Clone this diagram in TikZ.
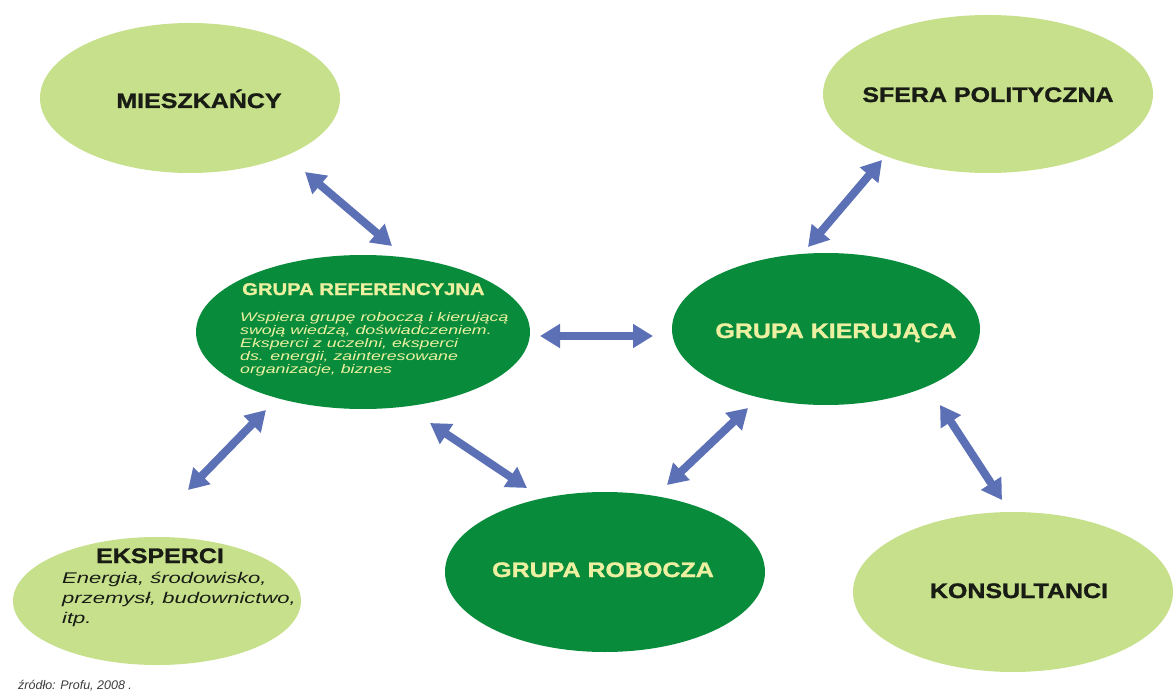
\documentclass[tikz,border=0pt]{standalone}
\usepackage{fontspec}
\setmainfont{Liberation Sans}
\newfontfamily\labelfont[FakeStretch=1.19, BoldFeatures={FakeBold=1.3}]{Liberation Sans}
\newfontfamily\notefont[FakeStretch=1.42]{Liberation Sans}
\usetikzlibrary{shapes.geometric,arrows.meta}

\definecolor{paleleaf}{RGB}{199,224,140}
\definecolor{deepleaf}{RGB}{8,140,60}
\definecolor{paletext}{RGB}{236,240,160}
\definecolor{inktext}{RGB}{24,28,20}
\definecolor{arrowblue}{RGB}{92,112,182}
\definecolor{sourcegray}{RGB}{60,60,60}

\tikzset{
  outer/.style={ellipse, fill=paleleaf, draw=none, inner sep=0pt},
  inner/.style={ellipse, fill=deepleaf, draw=none, inner sep=0pt},
  darklabel/.style={inner sep=0pt, text=inktext,
    font=\labelfont\bfseries\fontsize{21}{25}\selectfont},
  lightlabel/.style={inner sep=0pt, text=paletext,
    font=\labelfont\bfseries\fontsize{21}{25}\selectfont},
  link/.style={draw=arrowblue, line width=8pt,
    {Triangle[width=23pt,length=20pt]}-{Triangle[width=23pt,length=20pt]}}
}

\begin{document}
\begin{tikzpicture}[x=1pt,y=-1pt]
\useasboundingbox[fill=white] (0,0) rectangle (1173,695);

% ellipses
\node[outer, minimum width=300pt, minimum height=150pt] (mies) at (190,98) {};
\node[outer, minimum width=330pt, minimum height=158pt] (sfera) at (988,94) {};
\node[inner, minimum width=334pt, minimum height=154pt] (ref) at (363,332) {};
\node[inner, minimum width=308pt, minimum height=152pt] (kier) at (826,329) {};
\node[inner, minimum width=320pt, minimum height=160pt] (rob) at (605,572) {};
\node[outer, minimum width=288pt, minimum height=128pt] (eks) at (157,601) {};
\node[outer, minimum width=320pt, minimum height=160pt] (kons) at (1013,592) {};

% labels
\node[darklabel, anchor=base] (mies-t) at (199,108) {MIESZKAŃCY};
\node[darklabel, anchor=base] (sfera-t) at (988,102) {SFERA POLITYCZNA};
\node[darklabel, anchor=base] (kons-t) at (1019,598) {KONSULTANCI};
\node[darklabel, anchor=base] (eks-t) at (160,563) {EKSPERCI};
\node[lightlabel, anchor=base] (kier-t) at (836,338) {GRUPA KIERUJĄCA};
\node[lightlabel, anchor=base] (rob-t) at (603,577) {GRUPA ROBOCZA};
\node[lightlabel, anchor=base west,
  font=\labelfont\bfseries\fontsize{17}{20}\selectfont] (ref-t) at (242,295) {GRUPA REFERENCYJNA};

% descriptions (anchored at the baseline of their last line)
\node[inner sep=0pt, anchor=base west, align=left, text=paletext,
  font=\notefont\itshape\fontsize{12.5}{13}\selectfont] (ref-d) at (240,373)
  {Wspiera grupę roboczą i kierującą\\
   swoją wiedzą, doświadczeniem.\\
   Eksperci z uczelni, eksperci\\
   ds. energii, zainteresowane\\
   organizacje, biznes};

\node[inner sep=0pt, anchor=base west, align=left, text=inktext,
  font=\notefont\itshape\fontsize{15.5}{20}\selectfont] (eks-d) at (62,623)
  {Energia, środowisko,\\
   przemysł, budownictwo,\\
   itp.};

\node[inner sep=0pt, anchor=base west, text=sourcegray,
  font=\itshape\fontsize{12.5}{15}\selectfont] (src) at (18,689) {źródło: Profu, 2008 .};

% arrow end points
\coordinate (mies-a) at (305,172);  \coordinate (ref-a1) at (392,246);
\coordinate (sfera-a) at (882,160); \coordinate (kier-a1) at (808,247);
\coordinate (ref-a2) at (540,336);  \coordinate (kier-a2) at (653,336);
\coordinate (ref-a3) at (430,423);  \coordinate (rob-a1) at (527,488);
\coordinate (rob-a2) at (667,485);  \coordinate (kier-a3) at (748,408);
\coordinate (eks-a) at (188,490);   \coordinate (ref-a4) at (266,410);
\coordinate (kier-a4) at (940,405); \coordinate (kons-a) at (1002,500);

% two-way links
\draw[link] (mies-a) -- (ref-a1);
\draw[link] (sfera-a) -- (kier-a1);
\draw[link] (ref-a2) -- (kier-a2);
\draw[link] (ref-a3) -- (rob-a1);
\draw[link] (rob-a2) -- (kier-a3);
\draw[link] (eks-a) -- (ref-a4);
\draw[link] (kier-a4) -- (kons-a);
\end{tikzpicture}
\end{document}
